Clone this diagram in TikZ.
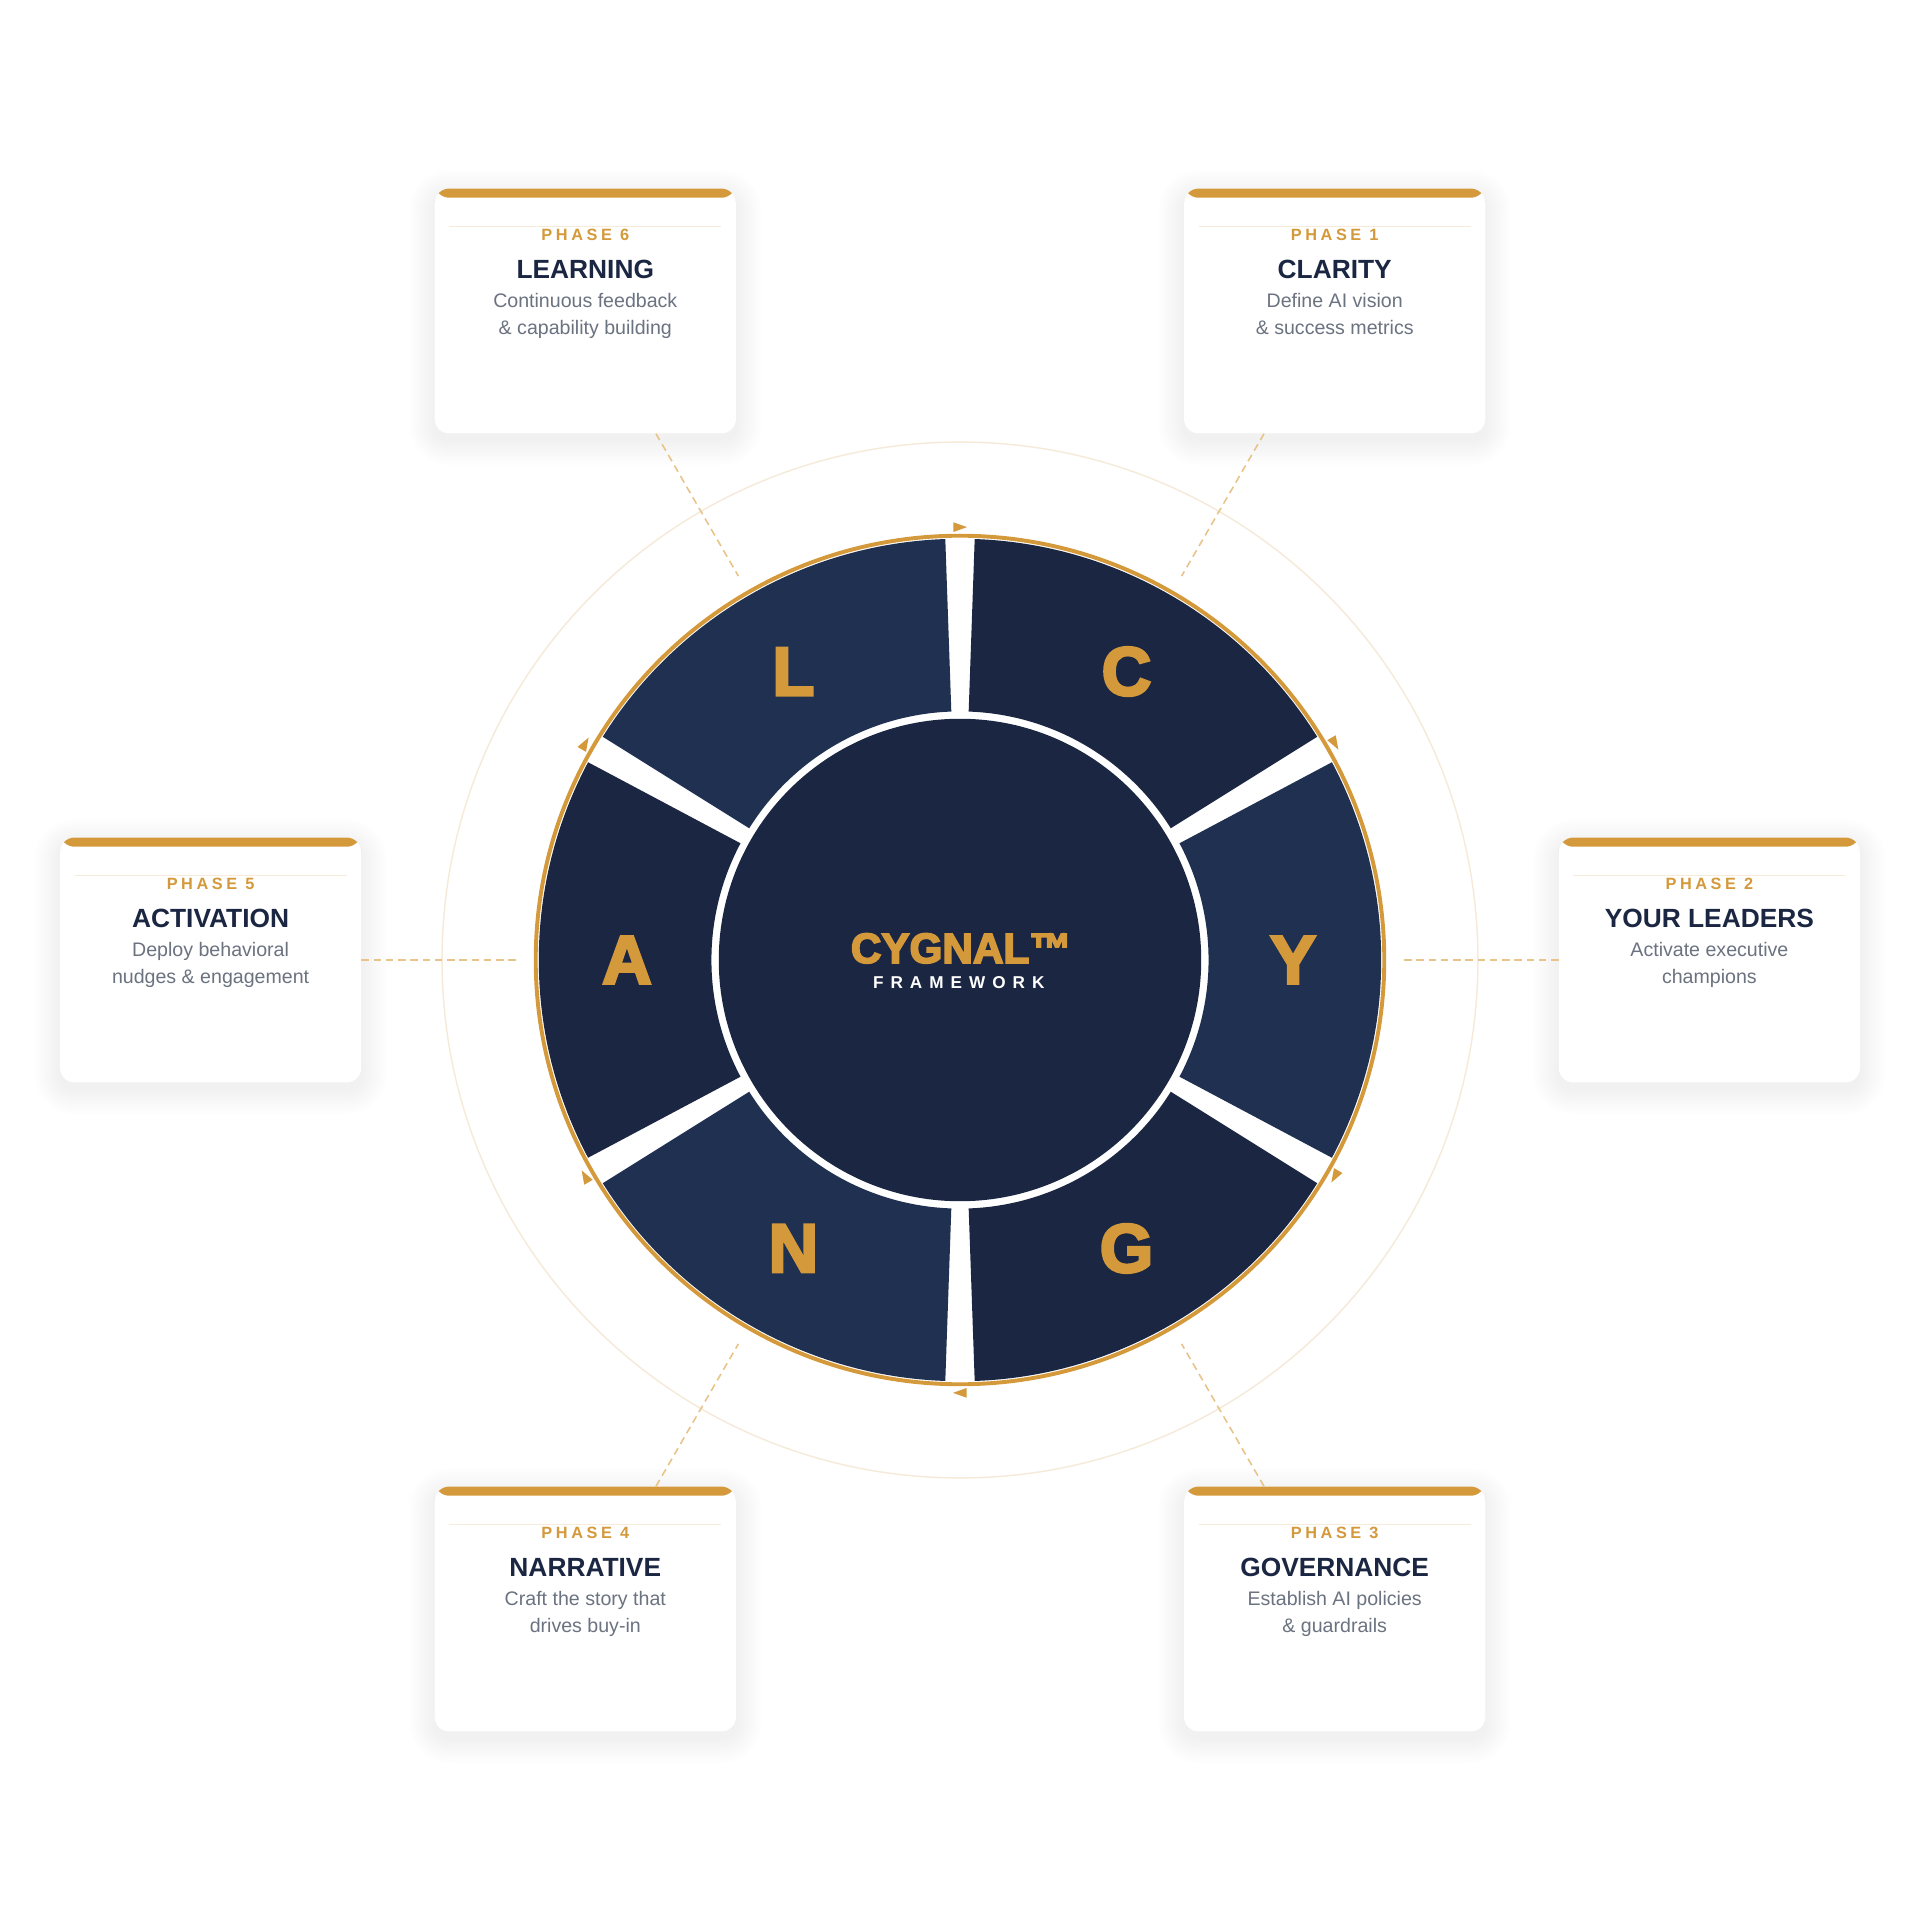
\documentclass[tikz,border=0pt]{standalone}
\usepackage{fontspec}
\setmainfont{Liberation Sans}
\newfontfamily\phasefont[LetterSpace=22]{Liberation Sans}
\newfontfamily\widefont[LetterSpace=41]{Liberation Sans}
\newfontfamily\heavyfont[FakeBold=4]{Liberation Sans Bold}
\usetikzlibrary{positioning,calc,backgrounds}
\definecolor{navydark}{HTML}{1B2742}
\definecolor{navylight}{HTML}{1F3050}
\definecolor{gold}{HTML}{D4993A}
\definecolor{goldlight}{HTML}{E8C48A}
\definecolor{goldpale}{HTML}{F6EBDA}
\definecolor{slate}{HTML}{6B7280}

\begin{document}
\begin{tikzpicture}[x=1pt,y=1pt,
    card/.style={rectangle,rounded corners=12pt,fill=white,minimum width=246pt,minimum height=200pt,inner sep=0pt,
        path picture={
            \fill[gold] ([yshift=1pt]path picture bounding box.north west) rectangle ([yshift=-7.5pt]path picture bounding box.north east);
            \draw[goldpale,line width=0.8pt] ([xshift=12pt,yshift=-31pt]path picture bounding box.north west) -- ([xshift=-12pt,yshift=-31pt]path picture bounding box.north east);
        }},
    phase/.style={font=\phasefont\bfseries\fontsize{13.3}{16}\selectfont,text=gold,anchor=base,inner sep=0pt},
    title/.style={font=\bfseries\fontsize{21.5}{26}\selectfont,text=navydark,anchor=base,inner sep=0pt},
    desc/.style={font=\fontsize{16}{22.3}\selectfont,text=slate,align=center,anchor=base,inner sep=0pt},
    letter/.style={font=\heavyfont\fontsize{56}{60}\selectfont,text=gold,inner sep=0pt},
    link/.style={goldlight,dash pattern=on 6pt off 4pt,line width=1.3pt},
    segdark/.style={fill=navydark},
    seglight/.style={fill=navylight}
]
    \useasboundingbox (-784,-784) rectangle (784,784);

    % faint outer orbit
    \draw[goldpale,line width=1.2pt] (0,0) circle[radius=423];

    % ring ends of the dashed links
    \coordinate (k1) at (60:362);
    \coordinate (k2) at (0:362);
    \coordinate (k3) at (-60:362);
    \coordinate (k4) at (-120:362);
    \coordinate (k5) at (180:362);
    \coordinate (k6) at (120:362);

    % phase cards
    \node[card] (c1) at (60:612) {};
    \node[card] (c2) at (0:612) {};
    \node[card] (c3) at (-60:612) {};
    \node[card] (c4) at (-120:612) {};
    \node[card] (c5) at (180:612) {};
    \node[card] (c6) at (120:612) {};

    \draw[link] (c1) -- (k1);
    \draw[link] (c2) -- (k2);
    \draw[link] (c3) -- (k3);
    \draw[link] (c4) -- (k4);
    \draw[link] (c5) -- (k5);
    \draw[link] (c6) -- (k6);

    % card texts
    \node[phase] (p1) at ([yshift=-43pt]c1.north) {PHASE 1};
    \node[title] (t1) at ([yshift=-73.5pt]c1.north) {CLARITY};
    \node[desc] (d1) at ([yshift=-119.8pt]c1.north) {Define AI vision\\\& success metrics};

    \node[phase] (p2) at ([yshift=-43pt]c2.north) {PHASE 2};
    \node[title] (t2) at ([yshift=-73.5pt]c2.north) {YOUR LEADERS};
    \node[desc] (d2) at ([yshift=-119.8pt]c2.north) {Activate executive\\champions};

    \node[phase] (p3) at ([yshift=-43pt]c3.north) {PHASE 3};
    \node[title] (t3) at ([yshift=-73.5pt]c3.north) {GOVERNANCE};
    \node[desc] (d3) at ([yshift=-119.8pt]c3.north) {Establish AI policies\\\& guardrails};

    \node[phase] (p4) at ([yshift=-43pt]c4.north) {PHASE 4};
    \node[title] (t4) at ([yshift=-73.5pt]c4.north) {NARRATIVE};
    \node[desc] (d4) at ([yshift=-119.8pt]c4.north) {Craft the story that\\drives buy-in};

    \node[phase] (p5) at ([yshift=-43pt]c5.north) {PHASE 5};
    \node[title] (t5) at ([yshift=-73.5pt]c5.north) {ACTIVATION};
    \node[desc] (d5) at ([yshift=-119.8pt]c5.north) {Deploy behavioral\\nudges \& engagement};

    \node[phase] (p6) at ([yshift=-43pt]c6.north) {PHASE 6};
    \node[title] (t6) at ([yshift=-73.5pt]c6.north) {LEARNING};
    \node[desc] (d6) at ([yshift=-119.8pt]c6.north) {Continuous feedback\\\& capability building};

    % wheel segments
    \fill[segdark] (32:203) arc[start angle=32,end angle=88,radius=203] -- (88:344) arc[start angle=88,end angle=32,radius=344] -- cycle;
    \fill[seglight] (92:203) arc[start angle=92,end angle=148,radius=203] -- (148:344) arc[start angle=148,end angle=92,radius=344] -- cycle;
    \fill[segdark] (152:203) arc[start angle=152,end angle=208,radius=203] -- (208:344) arc[start angle=208,end angle=152,radius=344] -- cycle;
    \fill[seglight] (212:203) arc[start angle=212,end angle=268,radius=203] -- (268:344) arc[start angle=268,end angle=212,radius=344] -- cycle;
    \fill[segdark] (272:203) arc[start angle=272,end angle=328,radius=203] -- (328:344) arc[start angle=328,end angle=272,radius=344] -- cycle;
    \fill[seglight] (-28:203) arc[start angle=-28,end angle=28,radius=203] -- (28:344) arc[start angle=28,end angle=-28,radius=344] -- cycle;

    % gold ring with its flow marks
    \draw[gold,line width=3.2pt] (0,0) circle[radius=346.5];
    \foreach \a in {90,30,-30,-90,-150,150}
        \fill[gold,shift={(\a:353.5)},rotate=\a-90] (-5.5,-4) -- (5.7,0) -- (-5.5,4) -- cycle;

    % letters
    \node[letter] (lc) at (60:272) {C};
    \node[letter] (ly) at (0:272) {Y};
    \node[letter] (lg) at (-60:272) {G};
    \node[letter] (ln) at (-120:272) {N};
    \node[letter] (la) at (180:272) {A};
    \node[letter] (ll) at (120:272) {L};

    % hub
    \node[circle,fill=navydark,minimum size=394pt,inner sep=0pt] (hub) at (0,0) {};
    \node[font=\heavyfont\fontsize{34.5}{40}\selectfont,text=gold,anchor=base,inner sep=0pt] (brand) at (1,-2.4) {CYGNAL™};
    \node[font=\widefont\bfseries\fontsize{14}{16}\selectfont,text=white,anchor=base,inner sep=0pt] (sub) at (-1,-23.3) {FRAMEWORK};

    % card shadows
    \begin{scope}[on background layer]
        \fill[white] (-784,-784) rectangle (784,784);
        \foreach \c in {c1,c2,c3,c4,c5,c6}
            \foreach \k in {1.5,3,...,21}
                \fill[navydark,opacity=0.0045,rounded corners=12+\k] ([shift={(-\k,-\k-5)}]\c.south west) rectangle ([shift={(\k,\k-6)}]\c.north east);
    \end{scope}
\end{tikzpicture}
\end{document}
